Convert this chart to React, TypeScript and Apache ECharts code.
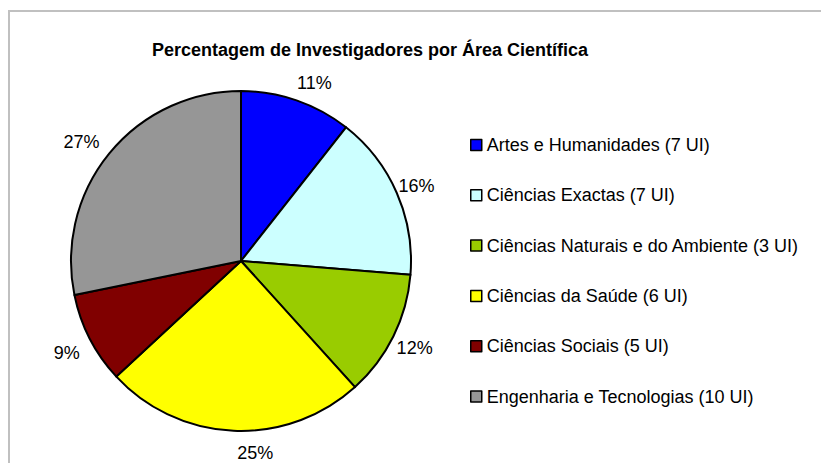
import React, { useEffect, useRef } from "react";
import * as echarts from "echarts";

const categories = [
  "Artes e Humanidades (7 UI)",
  "Ciências Exactas (7 UI)",
  "Ciências Naturais e do Ambiente (3 UI)",
  "Ciências da Saúde (6 UI)",
  "Ciências Sociais (5 UI)",
  "Engenharia e Tecnologias (10 UI)",
];
const shares = [10.6, 15.7, 12.0, 24.8, 8.7, 28.2];
const percentLabels = ["11%", "16%", "12%", "25%", "9%", "27%"];
const colors = ["#0000FF", "#CCFFFF", "#99CC00", "#FFFF00", "#800000", "#969696"];

const FONT = "Arial, 'Liberation Sans', sans-serif";

// small nudges of the percentage labels, matching where the original placed them
const labelNudges: Array<[number, number]> = [[9, 8], [-5, 4], [-3, 0], [23, -5], [1, 2], [-7, 6]];

export default function App() {
  const ref = useRef<HTMLDivElement>(null);
  useEffect(() => {
    if (!ref.current) return;
    const chart = echarts.init(ref.current, undefined, { renderer: "svg" });
    const data = categories.map((name, i) => ({
      name,
      value: shares[i],
      itemStyle: { color: colors[i] },
    }));
    const labelData = categories.map((name, i) => ({
      name,
      value: shares[i],
      label: { offset: labelNudges[i] },
    }));
    chart.setOption({
      animation: false,
      backgroundColor: "#ffffff",
      title: {
        text: "Percentagem de Investigadores por Área Científica",
        left: 365,
        top: 36,
        textAlign: "center",
        textStyle: { fontFamily: FONT, fontSize: 18, fontWeight: "bold", color: "#000" },
      },
      legend: {
        orient: "vertical",
        left: 470,
        top: 135,
        padding: 0,
        itemWidth: 11,
        itemHeight: 11,
        itemGap: 30.3,
        icon: "rect",
        selectedMode: false,
        itemStyle: { borderColor: "#000", borderWidth: 1.5 },
        textStyle: { fontFamily: FONT, fontSize: 18, color: "#000", lineHeight: 20 },
        data: categories,
      },
      series: [
        {
          type: "pie",
          center: [241, 261],
          radius: 170,
          startAngle: 90,
          clockwise: true,
          silent: true,
          itemStyle: { borderColor: "#000", borderWidth: 2 },
          label: { show: false },
          labelLine: { show: false },
          emphasis: { disabled: true },
          data,
        },
        {
          type: "pie",
          center: [241, 261],
          radius: [190, 198],
          startAngle: 90,
          clockwise: true,
          silent: true,
          itemStyle: { color: "transparent", borderWidth: 0 },
          label: {
            show: true,
            position: "inside",
            color: "#000",
            fontFamily: FONT,
            fontSize: 18,
            formatter: (p: any) => percentLabels[p.dataIndex],
          },
          labelLine: { show: false },
          emphasis: { disabled: true },
          data: labelData,
        },
      ],
    });
    return () => chart.dispose();
  }, []);
  return (
    <div style={{ position: "fixed", left: 0, top: 0, width: 821, height: 463, overflow: "hidden", background: "#fff" }}>
      <div ref={ref} style={{ position: "absolute", left: 0, top: 0, width: 821, height: 463 }} />
      <div
        style={{
          position: "absolute",
          left: 8,
          top: 10,
          width: 830,
          height: 470,
          borderTop: "2px solid #c0c0c0",
          borderLeft: "2px solid #c0c0c0",
          pointerEvents: "none",
        }}
      />
    </div>
  );
}
